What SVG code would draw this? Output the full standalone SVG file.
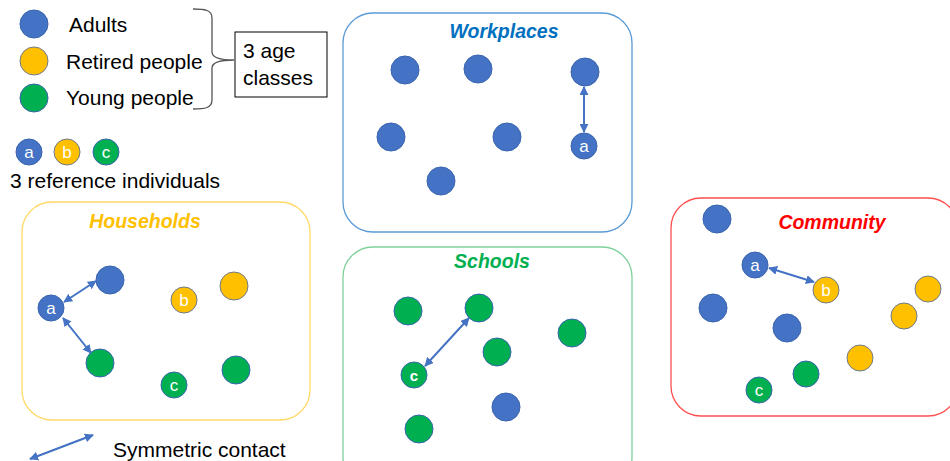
<svg xmlns="http://www.w3.org/2000/svg" width="950" height="461" viewBox="0 0 950 461">
<defs>
<marker id="ah" viewBox="0 0 10 10" refX="9" refY="5" markerWidth="4.5" markerHeight="4.5" orient="auto-start-reverse">
<path d="M0,0 L10,5 L0,10 z" fill="#4472C4"/>
</marker>
<style>
text{font-family:"Liberation Sans",Arial,sans-serif;}
.lbl{font-size:21px;fill:#000;}
.ttl{font-size:19.5px;font-weight:bold;font-style:italic;text-anchor:middle;}
.box{fill:#fff;stroke-width:1.3;}
.ad{fill:#4472C4;stroke:#3A64AE;stroke-width:1;}
.re{fill:#FFC000;stroke:#6E7A90;stroke-width:1;}
.yo{fill:#00B050;stroke:#3A64AE;stroke-width:1;}
.id{font-size:17px;fill:#fff;text-anchor:middle;}
.con{stroke:#4472C4;stroke-width:2;fill:none;marker-start:url(#ah);marker-end:url(#ah);}
</style>
</defs>
<rect width="950" height="461" fill="#fff"/>

<g id="legend">
<circle class="ad" cx="34" cy="24" r="14"/>
<circle class="re" cx="34" cy="61" r="14"/>
<circle class="yo" cx="34" cy="98" r="14"/>
<text class="lbl" x="69" y="32">Adults</text>
<text class="lbl" x="66" y="69">Retired people</text>
<text class="lbl" x="66" y="105">Young people</text>
<path d="M193,9 C205,9 212,10 212,18 L212,52 C212,58 220,60 234,60 C220,60 212,62 212,68 L212,100 C212,108 205,109 193,109" fill="none" stroke="#555" stroke-width="1.3"/>
<rect x="235" y="32" width="92" height="65" fill="#fff" stroke="#000" stroke-width="1"/>
<text class="lbl" x="243" y="58">3 age</text>
<text class="lbl" x="243" y="85">classes</text>
<circle class="ad" cx="29" cy="152" r="13"/>
<text class="id" x="29" y="158">a</text>
<circle class="re" cx="67" cy="152" r="13"/>
<text class="id" x="67" y="158">b</text>
<circle class="yo" cx="106" cy="152" r="13"/>
<text class="id" x="106" y="158">c</text>
<text class="lbl" x="10" y="188">3 reference individuals</text>
<text class="lbl" x="113" y="457">Symmetric contact</text>
</g>

<g id="workplaces">
<rect class="box" x="343" y="13" width="289" height="219" rx="30" stroke="#5B9BD5"/>
<text class="ttl" x="504" y="38" fill="#0070C0">Workplaces</text>
<circle class="ad" cx="405" cy="70" r="14"/>
<circle class="ad" cx="478" cy="69" r="14"/>
<circle class="ad" cx="585" cy="72" r="14"/>
<circle class="ad" cx="391" cy="137" r="14"/>
<circle class="ad" cx="507" cy="137" r="14"/>
<circle class="ad" cx="441" cy="181" r="14"/>
<circle class="ad" cx="584" cy="146" r="13"/>
<text class="id" x="584" y="152">a</text>
</g>

<g id="households">
<rect class="box" x="22" y="202" width="288" height="218" rx="30" stroke="#FFD966"/>
<text class="ttl" x="145" y="228" fill="#FFC000">Households</text>
<circle class="ad" cx="110" cy="280" r="14"/>
<circle class="ad" cx="51" cy="308" r="13"/>
<text class="id" x="51" y="314">a</text>
<circle class="re" cx="184" cy="300" r="13"/>
<text class="id" x="184" y="306">b</text>
<circle class="re" cx="234" cy="286" r="14"/>
<circle class="yo" cx="100" cy="363" r="14"/>
<circle class="yo" cx="174" cy="385" r="13"/>
<text class="id" x="174" y="391">c</text>
<circle class="yo" cx="236" cy="370" r="14"/>
</g>

<g id="schools">
<rect class="box" x="343" y="247" width="289" height="240" rx="30" stroke="#7FD19B"/>
<text class="ttl" x="492" y="268" fill="#00B050">Schools</text>
<circle class="yo" cx="408" cy="311" r="14"/>
<circle class="yo" cx="479" cy="308" r="14"/>
<circle class="yo" cx="572" cy="333" r="14"/>
<circle class="yo" cx="497" cy="352" r="14"/>
<circle class="yo" cx="414" cy="375" r="13"/>
<text class="id" x="414" y="381" style="font-weight:bold;font-size:15px">c</text>
<circle class="ad" cx="506" cy="407" r="14"/>
<circle class="yo" cx="419" cy="429" r="14"/>
</g>

<g id="community">
<rect class="box" x="671" y="198" width="287" height="218" rx="30" stroke="#FF5050"/>
<text class="ttl" x="832" y="229" fill="#FF0000">Community</text>
<circle class="ad" cx="717" cy="219" r="14"/>
<circle class="ad" cx="755" cy="265" r="13"/>
<text class="id" x="755" y="271">a</text>
<circle class="re" cx="826" cy="290" r="13"/>
<text class="id" x="826" y="296">b</text>
<circle class="ad" cx="713" cy="308" r="14"/>
<circle class="ad" cx="787" cy="328" r="14"/>
<circle class="re" cx="928" cy="289" r="13"/>
<circle class="re" cx="904" cy="316" r="13"/>
<circle class="re" cx="860" cy="358" r="13"/>
<circle class="yo" cx="806" cy="374" r="13"/>
<circle class="yo" cx="759" cy="390" r="13"/>
<text class="id" x="759" y="396">c</text>
</g>

<g id="connectors">
<line class="con" x1="584" y1="87" x2="584" y2="132"/>
<line class="con" x1="64" y1="302" x2="96" y2="281"/>
<line class="con" x1="63" y1="318" x2="91" y2="353"/>
<line class="con" x1="425" y1="366" x2="469" y2="318"/>
<line class="con" x1="769" y1="268" x2="814" y2="282"/>
<line class="con" x1="30" y1="459" x2="93" y2="435"/>
</g>
</svg>
